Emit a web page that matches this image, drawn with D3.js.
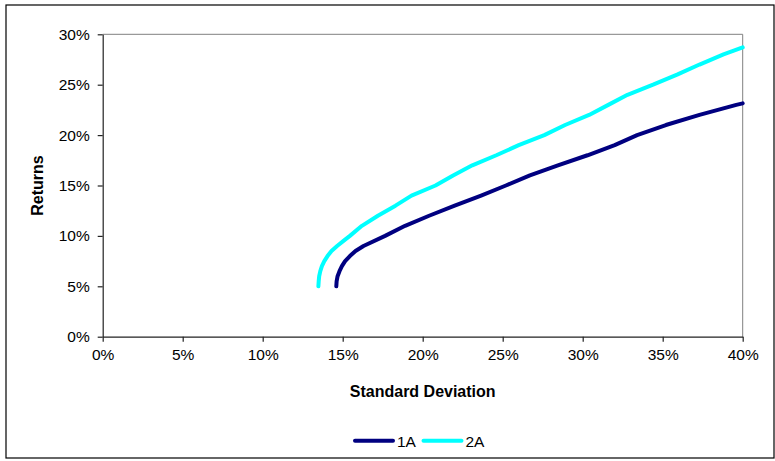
<!DOCTYPE html>
<html>
<head>
<meta charset="utf-8">
<script src="https://cdn.jsdelivr.net/npm/d3@7"></script>
<style>
  body { margin: 0; background: #fff; }
  text { font-family: "Liberation Sans", Arial, sans-serif; fill: #000; }
</style>
</head>
<body>
<div id="chart"></div>
<script>
// data (percent)
var seriesNames = ["1A", "2A"];
var seriesColors = ["#000080", "#00ffff"];

var sd1A = [14.6, 14.62, 14.68, 14.8, 14.95, 15.15, 15.45, 15.8, 16.3, 17.65, 18.9, 20.4, 22.0, 23.65, 25.2, 26.7, 28.45, 30.3, 32.0, 33.4, 35.2, 37.3, 39.6, 40];
var ret1A = [5, 5.5, 6, 6.5, 7, 7.5, 8, 8.5, 9, 10, 11, 12, 13, 14, 15, 16, 17, 18, 19, 20, 21, 22, 23, 23.15];

var sd2A = [13.48, 13.5, 13.53, 13.6, 13.7, 13.85, 14.05, 14.3, 14.65, 15.05, 15.45, 16.2, 17.2, 18.3, 19.3, 20.8, 21.9, 23.1, 24.6, 26.0, 27.6, 28.9, 30.4, 31.6, 32.8, 34.4, 35.9, 37.3, 38.8, 40];
var ret2A = [5, 5.5, 6, 6.5, 7, 7.5, 8, 8.5, 9, 9.5, 10, 11, 12, 13, 14, 15, 16, 17, 18, 19, 20, 21, 22, 23, 24, 25, 26, 27, 28, 28.7];

var xTicks = [0, 5, 10, 15, 20, 25, 30, 35, 40];
var yTicks = [0, 5, 10, 15, 20, 25, 30];

var svgWidth = 775;
var svgHeight = 461;

// plot area inside the svg
var plot = { left: 102.7, top: 34.3, right: 742.7, bottom: 336.7 };

var svg = d3.select("#chart").append("svg")
    .attr("width", svgWidth)
    .attr("height", svgHeight);

// outer chart border
svg.append("rect")
    .attr("x", 6)
    .attr("y", 5)
    .attr("width", 768)
    .attr("height", 453)
    .attr("fill", "none")
    .attr("stroke", "#000")
    .attr("stroke-width", 1.2);

var x = d3.scaleLinear().domain([0, 40]).range([plot.left, plot.right]);
var y = d3.scaleLinear().domain([0, 30]).range([plot.bottom, plot.top]);

// gray top / right edge of plot area
svg.append("path")
    .attr("d", `M${plot.left},${plot.top}H${plot.right}V${plot.bottom}`)
    .attr("fill", "none")
    .attr("stroke", "#808080")
    .attr("stroke-width", 1);

var pct = function(d) { return d + "%"; };

var xAxis = svg.append("g")
    .attr("transform", `translate(0, ${plot.bottom})`)
    .call(d3.axisBottom(x).tickValues(xTicks).tickFormat(pct).tickSize(5).tickSizeOuter(0));
xAxis.selectAll("text")
    .attr("y", 12)
    .style("font-size", "15.5px");

var yAxis = svg.append("g")
    .attr("transform", `translate(${plot.left}, 0)`)
    .call(d3.axisLeft(y).tickValues(yTicks).tickFormat(pct).tickSize(5).tickSizeOuter(0));
yAxis.selectAll("text")
    .attr("x", -13)
    .style("font-size", "15.5px");

svg.selectAll(".domain, .tick line")
    .attr("stroke", "#222")
    .attr("stroke-width", 1.2);

// lines
var line = d3.line()
    .x(function(d) { return x(d.sd); })
    .y(function(d) { return y(d.ret); });

var allSeries = [
  sd1A.map(function(s, i) { return { sd: s, ret: ret1A[i] }; }),
  sd2A.map(function(s, i) { return { sd: s, ret: ret2A[i] }; })
];

svg.selectAll(".series")
    .data(allSeries)
    .enter()
    .append("path")
    .attr("class", "series")
    .attr("d", line)
    .attr("fill", "none")
    .attr("stroke", function(d, i) { return seriesColors[i]; })
    .attr("stroke-width", 4)
    .attr("stroke-linecap", "round")
    .attr("stroke-linejoin", "round");

// axis titles
svg.append("text")
    .attr("x", (plot.left + plot.right) / 2)
    .attr("y", 397)
    .attr("text-anchor", "middle")
    .style("font-size", "16px")
    .style("font-weight", "bold")
    .text("Standard Deviation");

svg.append("text")
    .attr("transform", `translate(43, ${(plot.top + plot.bottom) / 2}) rotate(-90)`)
    .attr("text-anchor", "middle")
    .style("font-size", "16px")
    .style("font-weight", "bold")
    .text("Returns");

// legend
var legendX = [355, 423.5];
var legend = svg.selectAll(".legend")
    .data(seriesNames)
    .enter()
    .append("g")
    .attr("class", "legend")
    .attr("transform", function(d, i) { return `translate(${legendX[i]}, 440.7)`; });

legend.append("line")
    .attr("x1", 0)
    .attr("x2", 38)
    .attr("stroke", function(d, i) { return seriesColors[i]; })
    .attr("stroke-width", 4)
    .attr("stroke-linecap", "round");

legend.append("text")
    .attr("x", 42)
    .attr("y", 6)
    .style("font-size", "15.5px")
    .text(function(d) { return d; });
</script>
</body>
</html>
